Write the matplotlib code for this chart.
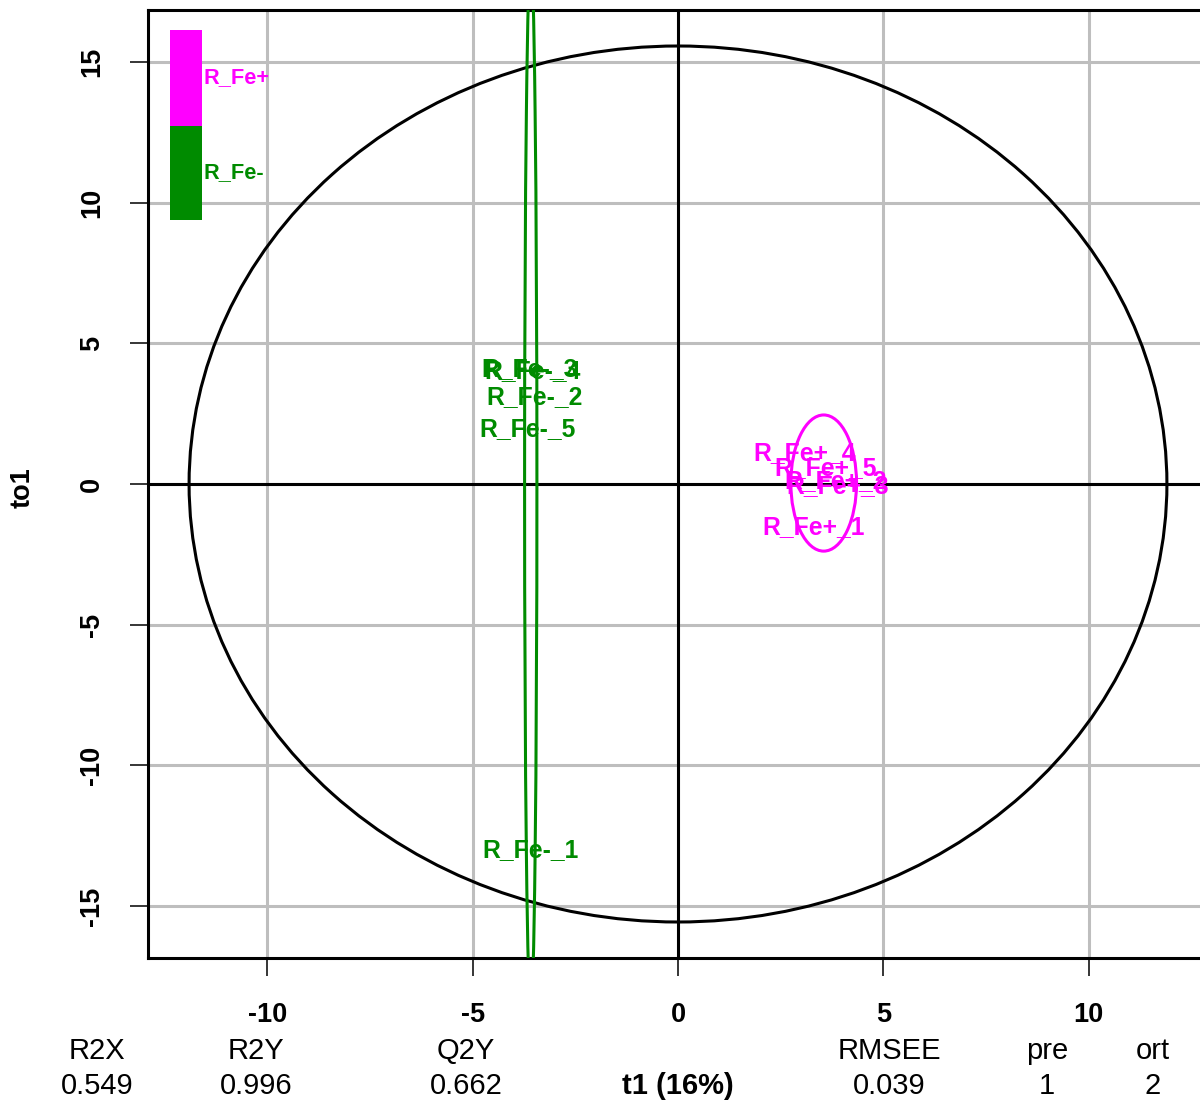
import numpy as np
import matplotlib
matplotlib.use('Agg')
import matplotlib.pyplot as plt
from matplotlib.patches import Ellipse, Rectangle

plt.rcParams['font.family'] = ['Liberation Sans', 'DejaVu Sans']

# OPLS-DA score plot: predictive t1 vs orthogonal to1
classes = ['R_Fe+', 'R_Fe-']
class_colors = ['#FF00FF', '#008B00']

fe_pos_names = ['R_Fe+_1', 'R_Fe+_2', 'R_Fe+_3', 'R_Fe+_4', 'R_Fe+_5']
fe_pos_t1 = [3.31, 3.84, 3.89, 3.09, 3.60]
fe_pos_to1 = [-1.53, 0.10, -0.07, 1.10, 0.57]

fe_neg_names = ['R_Fe-_1', 'R_Fe-_2', 'R_Fe-_3', 'R_Fe-_4', 'R_Fe-_5']
fe_neg_t1 = [-3.60, -3.50, -3.60, -3.55, -3.67]
fe_neg_to1 = [-13.0, 3.09, 4.09, 4.02, 1.96]

# per-class ellipse half-axes (t1, to1) and Hotelling T2 ellipse
class_radii = [(0.80, 2.42), (0.15, 18.65)]
hotelling_radii = (11.9, 15.57)

x_ticks = [-10, -5, 0, 5, 10]
y_ticks = [-15, -10, -5, 0, 5, 10, 15]

stat_names = ['R2X', 'R2Y', 'Q2Y', 'RMSEE', 'pre', 'ort']
stat_values = ['0.549', '0.996', '0.662', '0.039', '1', '2']
x_label = 't1 (16%)'
y_label = 'to1'

W, H = 1200, 1106
fig = plt.figure(figsize=(W / 100, H / 100), dpi=100)
ax = fig.add_axes([148 / W, 1 - 958 / H, 1060 / W, 948 / H])
ax.set_xlim(-12.9, 12.9)
ax.set_ylim(-16.85, 16.85)

grid_kw = dict(color='#BEBEBE', lw=2.2, zorder=0)
for xt in x_ticks:
    ax.axvline(xt, **grid_kw)
for yt in y_ticks:
    ax.axhline(yt, **grid_kw)
ax.axvline(0, color='black', lw=2.2, zorder=1)
ax.axhline(0, color='black', lw=2.2, zorder=1)

ax.add_patch(Ellipse((0, 0), 2 * hotelling_radii[0], 2 * hotelling_radii[1],
                     fill=False, ec='black', lw=2.2, zorder=2))

groups = [
    (fe_pos_names, fe_pos_t1, fe_pos_to1),
    (fe_neg_names, fe_neg_t1, fe_neg_to1),
]
for (names, t1, to1), col, (rx, ry) in zip(groups, class_colors, class_radii):
    cx, cy = np.mean(t1), np.mean(to1)
    ax.add_patch(Ellipse((cx, cy), 2 * rx, 2 * ry, fill=False, ec=col,
                         lw=2.2, zorder=3))
    for name, x, y in zip(names, t1, to1):
        ax.text(x, y, name, color=col, fontsize=17.8, fontweight='bold',
                ha='center', va='center', zorder=4)

# class colour key in the top-left corner
key_x0, key_w = 0.0208, 0.0301
key_edges = [0.979, 0.8776, 0.7785]
for i, (cls, col) in enumerate(zip(classes, class_colors)):
    top, bot = key_edges[i], key_edges[i + 1]
    ax.add_patch(Rectangle((key_x0, bot), key_w, top - bot, transform=ax.transAxes,
                           color=col, lw=0, zorder=5))
    ax.text(key_x0 + key_w + 0.001, (top + bot) / 2, cls, transform=ax.transAxes,
            color=col, fontsize=15.7, fontweight='bold', ha='left', va='center', zorder=5)

ax.set_xticks(x_ticks)
ax.set_yticks(y_ticks)
ax.set_xticklabels([str(v) for v in x_ticks], fontsize=19.5, fontweight='bold')
ax.set_yticklabels([str(v) for v in y_ticks], fontsize=19.5, fontweight='bold',
                   rotation=90, va='center')
ax.tick_params(axis='both', direction='out', length=13, width=1.1, color='black')
ax.tick_params(axis='x', pad=19)
ax.tick_params(axis='y', pad=18)
for sp in ax.spines.values():
    sp.set_linewidth(2.2)

fig.text(23 / W, 1 - 488 / H, y_label, rotation=90, fontsize=19.5, fontweight='bold',
         ha='center', va='center')

# model summary under the plot
stat_x = [97, 256, 466, 889, 1047, 1153]
for sx, name, val in zip(stat_x, stat_names, stat_values):
    fig.text(sx / W, 1 - 1051 / H, name, fontsize=21, ha='center', va='center')
    fig.text(sx / W, 1 - 1086 / H, val, fontsize=21, ha='center', va='center')
fig.text(678 / W, 1 - 1086 / H, x_label, fontsize=21, fontweight='bold',
         ha='center', va='center')

fig.savefig('out.png', dpi=100)
